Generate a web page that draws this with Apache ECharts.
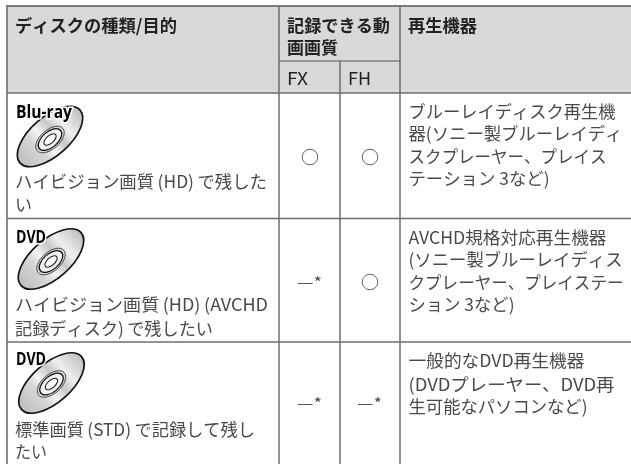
<!DOCTYPE html>
<html><head><meta charset="utf-8">
<style>html,body{margin:0;padding:0;background:#fff}#c{width:631px;height:464px}</style>
<script src="https://cdn.jsdelivr.net/npm/echarts@6/dist/echarts.min.js"></script>
</head><body><div id="c"></div>
<script>
// ---- content ----
const headerDisc = "ディスクの種類/目的";
const headerQuality = ["記録できる動", "画画質"];
const headerModes = ["FX", "FH"];
const headerPlayer = "再生機器";
const discLabels = ["Blu-ray", "DVD", "DVD"];
const purposeLines = [
  ["ハイビジョン画質\u2009(HD)\u2009で残した", "い"],
  ["ハイビジョン画質\u2009(HD)\u2009(AVCHD", "記録ディスク)\u2009で残したい"],
  ["標準画質\u2009(STD)\u2009で記録して残し", "たい"]
];
const fxMarks = ["○", "—*", "—*"];
const fhMarks = ["○", "○", "—*"];
const playerLines = [
  ["ブルーレイディスク再生機", "器(ソニー製ブルーレイディ", "スクプレーヤー、プレイス", "テーション 3など)"],
  ["AVCHD規格対応再生機器", "(ソニー製ブルーレイディス", "クプレーヤー、プレイステー", "ション 3など)"],
  ["一般的なDVD再生機器", "(DVDプレーヤー、DVD再", "生可能なパソコンなど)"]
];

// ---- layout (pixels) ----
const L = {
  left: 7, top: 6, right: 632, bottom: 470, headBottom: 93, subHead: 61,
  col1: 279, col2: 340, col3: 400, rowLines: [218.5, 342],
  purposeY: [[181, 204], [304, 328], [429, 451]],
  purposeX: [[15, 267, 15, 32], [15, 268, 15, 213], [15, 255, 15, 47]],
  playerY: [[111, 133, 156, 178], [237, 259, 282, 304], [360, 384, 406]],
  playerW: [[207, 214, 198, 141], [198, 214, 215, 106], [176, 206, 179]],
  markY: [157, 282, 403],
  discX: [50, 51, 51.5], discY: [136.5, 259, 383],
  holeDy: [3, 2.5, 1],
  labelY: [113, 238, 360], labelW: [56, 30, 30]
};
const FONT = '"Noto Sans CJK JP","Noto Sans",sans-serif';
const els = [];
const meas = document.createElement('canvas').getContext('2d');
function txt(s, x, y, w, o) {
  o = o || {};
  const weight = o.bold ? 'bold' : 'normal';
  const size = o.size || 17.5;
  const fam = o.family || FONT;
  meas.font = weight + ' ' + size + 'px ' + fam;
  const adv = meas.measureText(s).width;
  const sx = w ? w / adv : 1;
  els.push({
    type: 'text', x: x, y: y, scaleX: sx, z: o.z || 5,
    style: { text: s, fill: o.color || '#4a4a4a', font: weight + ' ' + size + 'px ' + fam,
      textAlign: 'left', textVerticalAlign: 'middle' }
  });
}
function line(x1, y1, x2, y2, c, w) {
  els.push({ type: 'line', z: 3, shape: { x1, y1, x2, y2 }, style: { stroke: c, lineWidth: w } });
}
// header band
els.push({ type: 'rect', z: 1, shape: { x: L.left, y: L.top, width: L.right - L.left, height: L.headBottom - L.top }, style: { fill: '#d9d9d9' } });
// rules
const rule = '#6e6e6e';
line(L.left - 1, L.top, L.right, L.top, '#555', 1.5);
line(L.left, L.top, L.left, L.bottom, rule, 1.6);
line(L.left, L.headBottom, L.right, L.headBottom, rule, 1.6);
L.rowLines.forEach(y => line(L.left, y, L.right, y, rule, 1.6));
line(L.col1, L.top, L.col1, L.bottom, rule, 1.5);
line(L.col3, L.top, L.col3, L.bottom, rule, 1.5);
line(L.col2, L.subHead, L.col2, L.bottom, rule, 1.5);
line(L.col1, L.subHead, L.col3, L.subHead, '#555', 1.2);
// header text
txt(headerDisc, 15, 25, 162, { bold: true, color: '#222' });
txt(headerQuality[0], 287, 25, 103, { bold: true, color: '#222' });
txt(headerQuality[1], 287, 47, 51, { bold: true, color: '#222' });
txt(headerModes[0], 287, 78, 21, { color: '#222' });
txt(headerModes[1], 348, 78, 23, { color: '#222' });
txt(headerPlayer, 408, 25, 69, { bold: true, color: '#222' });
// disc icon
function disc(i) {
  const cx = L.discX[i], cy = L.discY[i], rot = 0.72, hy = cy + L.holeDy[i];
  const grad = { type: 'linear', x: 0, y: 0, x2: 1, y2: 0, colorStops: [
    { offset: 0, color: '#bdbdbd' }, { offset: 0.3, color: '#d6d6d6' }, { offset: 0.42, color: '#f4f4f4' },
    { offset: 0.58, color: '#c8c8c8' }, { offset: 0.72, color: '#f0f0f0' }, { offset: 1, color: '#bbbbbb' }] };
  const e = (y, rx, ry, fill, stroke, lw) => els.push({ type: 'ellipse', z: 6, x: cx, y, rotation: rot,
    shape: { cx: 0, cy: 0, rx, ry }, style: { fill, stroke, lineWidth: lw } });
  e(cy, 40, 19.5, grad, '#111', 1.7);
  e(hy, 17, 9.5, '#dcdcdc', '#333', 0.8);
  e(hy, 14, 7.8, '#f2f2f2', '#111', 1.3);
  e(hy, 7.5, 3.8, '#fff', '#222', 1.1);
  const fam = '"Open Sans",sans-serif';
  meas.font = 'bold 17px ' + fam;
  const sx = L.labelW[i] / meas.measureText(discLabels[i]).width;
  els.push({ type: 'text', z: 8, x: 16, y: L.labelY[i], scaleX: sx,
    style: { text: discLabels[i], fill: '#000', font: 'bold 17px ' + fam,
      textVerticalAlign: 'middle', stroke: '#fff', lineWidth: 3 } });
}
discLabels.forEach((d, i) => disc(i));
// purposes
purposeLines.forEach((ls, i) => ls.forEach((s, j) =>
  txt(s, L.purposeX[i][j * 2], L.purposeY[i][j], L.purposeX[i][j * 2 + 1] - L.purposeX[i][j * 2])));
// players
playerLines.forEach((ls, i) => ls.forEach((s, j) => txt(s, 408.5, L.playerY[i][j], L.playerW[i][j])));
// marks
function mark(m, cx, cy) {
  if (m === '○') {
    els.push({ type: 'circle', z: 5, shape: { cx, cy, r: 7.8 }, style: { fill: 'none', stroke: '#555', lineWidth: 0.9 } });
  } else {
    txt(m, cx - 13, cy, 25, { size: 15 });
  }
}
fxMarks.forEach((m, i) => mark(m, 310, L.markY[i]));
fhMarks.forEach((m, i) => mark(m, 370, L.markY[i]));

const chart = echarts.init(document.getElementById('c'), null, { renderer: 'canvas' });
chart.setOption({ animation: false, backgroundColor: '#fff', graphic: { elements: els } });
</script></body></html>
